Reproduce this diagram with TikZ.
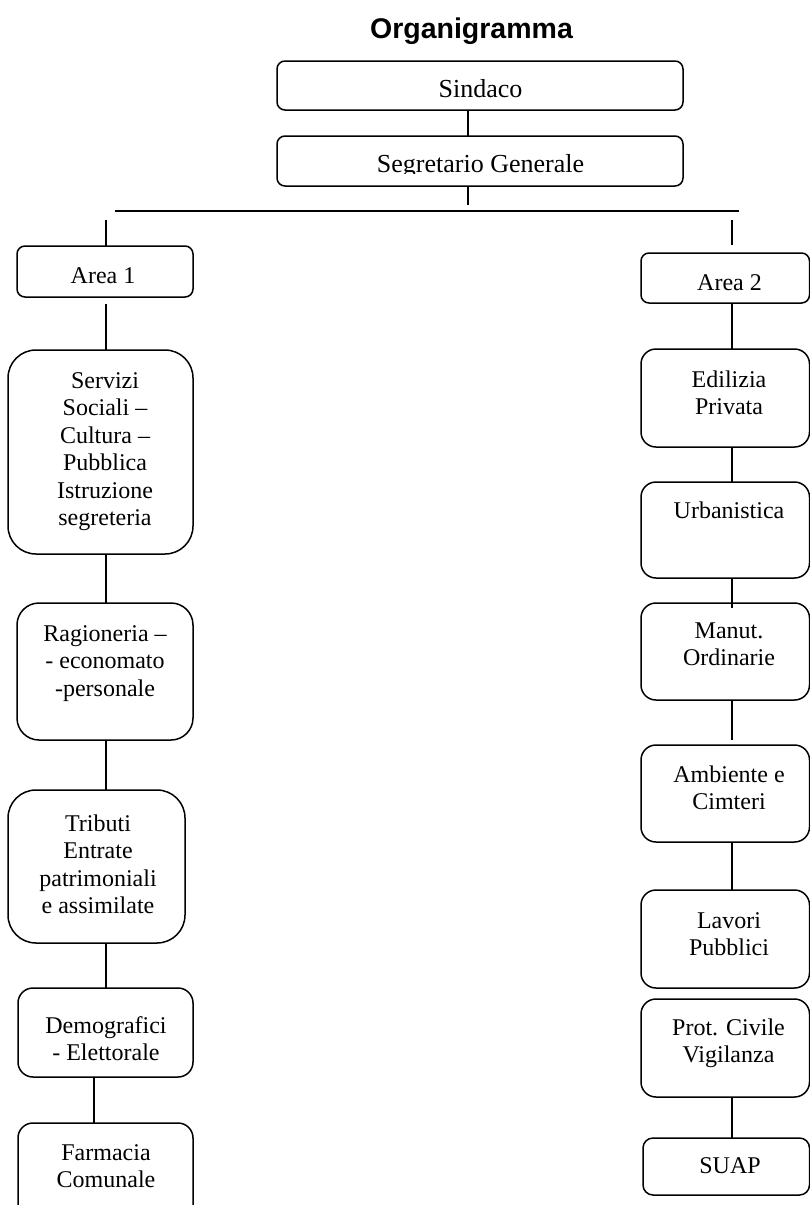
\documentclass[tikz,border=0pt]{standalone}
\usepackage{fontspec}
\setmainfont{Liberation Serif}
\newfontfamily\titlefont{Liberation Sans}
\newcommand\mlines[1]{\begin{tabular}[t]{@{}c@{}}#1\end{tabular}}
\begin{document}
\begin{tikzpicture}[x=1pt,y=-1pt,
  orgbox/.style={draw, line width=1.5pt, inner sep=0pt, outer sep=0pt, anchor=north west, rectangle},
  conn/.style={line width=1.5pt},
  lbl/.style={anchor=base, inner sep=0pt, font=\fontsize{24}{27.5}\selectfont},
  toplbl/.style={anchor=base, inner sep=0pt, font=\fontsize{26}{30}\selectfont},
  ttl/.style={anchor=base, inner sep=0pt, font=\titlefont\bfseries\fontsize{28.5}{32}\selectfont}]
\useasboundingbox (0,0) rectangle (809,1205);

% title
\node[ttl] (title) at (471.5,38) {Organigramma};

% top boxes
\node[orgbox, rounded corners=8pt, minimum width=406pt, minimum height=49pt] (sindaco) at (277,61) {};
\node[toplbl] (tsindaco) at (480.5,97) {Sindaco};
\node[orgbox, rounded corners=8pt, minimum width=406pt, minimum height=50pt] (segretario) at (277,136) {};
\begin{scope}
  \clip (277,136) rectangle (683,173.5);
  \node[toplbl] (tsegretario) at (480.5,172) {Segretario Generale};
\end{scope}

% column coordinates
\coordinate (topx) at (468,0);
\coordinate (Lx) at (106,0);
\coordinate (Lx2) at (94,0);
\coordinate (Rx) at (732,0);
\coordinate (segend) at (468,205);
\coordinate (busL) at (115,211);
\coordinate (busR) at (739,211);
\coordinate (stubL) at (106,220);
\coordinate (stubR) at (732,220);
\coordinate (stubRend) at (732,245);

% left column boxes
\node[orgbox, rounded corners=8pt, minimum width=176pt, minimum height=51pt] (area1) at (17,246) {};
\node[lbl] (tarea1) at (103,283) {Area 1};
\node[orgbox, rounded corners=28pt, minimum width=185pt, minimum height=204pt] (servizi) at (8,350) {};
\node[lbl] (tservizi) at (105,388) {\mlines{Servizi\\Sociali –\\Cultura –\\Pubblica\\Istruzione\\segreteria}};
\node[orgbox, rounded corners=22pt, minimum width=176pt, minimum height=137pt] (ragioneria) at (17,603) {};
\node[lbl] (tragioneria) at (105,641) {\mlines{Ragioneria –\\- economato\\-personale}};
\node[orgbox, rounded corners=28pt, minimum width=177pt, minimum height=153pt] (tributi) at (8,790) {};
\node[lbl] (ttributi) at (98,831) {\mlines{Tributi\\Entrate\\patrimoniali\\e assimilate}};
\node[orgbox, rounded corners=15pt, minimum width=175pt, minimum height=89pt] (demografici) at (18,988) {};
\node[lbl] (tdemografici) at (106,1033) {\mlines{Demografici\\- Elettorale}};
\node[orgbox, rounded corners=15pt, minimum width=175pt, minimum height=110pt] (farmacia) at (18,1123) {};
\node[lbl] (tfarmacia) at (106,1160) {\mlines{Farmacia\\Comunale}};

% right column boxes
\node[orgbox, rounded corners=8pt, minimum width=168.5pt, minimum height=50pt] (area2) at (641,253) {};
\node[lbl] (tarea2) at (729.5,290) {Area 2};
\node[orgbox, rounded corners=15pt, minimum width=168.5pt, minimum height=98pt] (edilizia) at (641,349) {};
\node[lbl] (tedilizia) at (729,387) {\mlines{Edilizia\\Privata}};
\node[orgbox, rounded corners=15pt, minimum width=168.5pt, minimum height=96pt] (urbanistica) at (641,482) {};
\node[lbl] (turbanistica) at (729,518) {Urbanistica};
\node[orgbox, rounded corners=15pt, minimum width=168.5pt, minimum height=97pt] (manut) at (641,603) {};
\node[lbl] (tmanut) at (729,638) {\mlines{Manut.\\Ordinarie}};
\node[orgbox, rounded corners=15pt, minimum width=168.5pt, minimum height=97pt] (ambiente) at (641,745) {};
\node[lbl] (tambiente) at (729,782) {\mlines{Ambiente e\\Cimteri}};
\node[orgbox, rounded corners=15pt, minimum width=168.5pt, minimum height=98pt] (lavori) at (641,890) {};
\node[lbl] (tlavori) at (729,928) {\mlines{Lavori\\Pubblici}};
\node[orgbox, rounded corners=15pt, minimum width=168.5pt, minimum height=98pt] (prot) at (641,999) {};
\node[lbl] (tprot) at (728.5,1035) {\mlines{Prot. Civile\\Vigilanza}};
\node[orgbox, rounded corners=10pt, minimum width=166.5pt, minimum height=57pt] (suap) at (643,1138) {};
\node[lbl] (tsuap) at (730,1173) {SUAP};

% connectors
\draw[conn] (sindaco.south -| topx) -- (segretario.north -| topx);
\draw[conn] (segretario.south -| topx) -- (segend);
\draw[conn] (busL) -- (busR);
\draw[conn] (stubL) -- (area1.north -| stubL);
\draw[conn] (stubR) -- (stubRend);

\draw[conn, shorten <=7pt] (area1.south -| Lx) -- (servizi.north -| Lx);
\draw[conn] (servizi.south -| Lx) -- (ragioneria.north -| Lx);
\draw[conn] (ragioneria.south -| Lx) -- (tributi.north -| Lx);
\draw[conn] (tributi.south -| Lx) -- (demografici.north -| Lx);
\draw[conn] (demografici.south -| Lx2) -- (farmacia.north -| Lx2);

\draw[conn] (area2.south -| Rx) -- (edilizia.north -| Rx);
\draw[conn] (edilizia.south -| Rx) -- (urbanistica.north -| Rx);
\draw[conn, shorten >=-5pt] (urbanistica.south -| Rx) -- (manut.north -| Rx);
\draw[conn, shorten >=5pt] (manut.south -| Rx) -- (ambiente.north -| Rx);
\draw[conn] (ambiente.south -| Rx) -- (lavori.north -| Rx);
\draw[conn] (prot.south -| Rx) -- (suap.north -| Rx);
\end{tikzpicture}
\end{document}
